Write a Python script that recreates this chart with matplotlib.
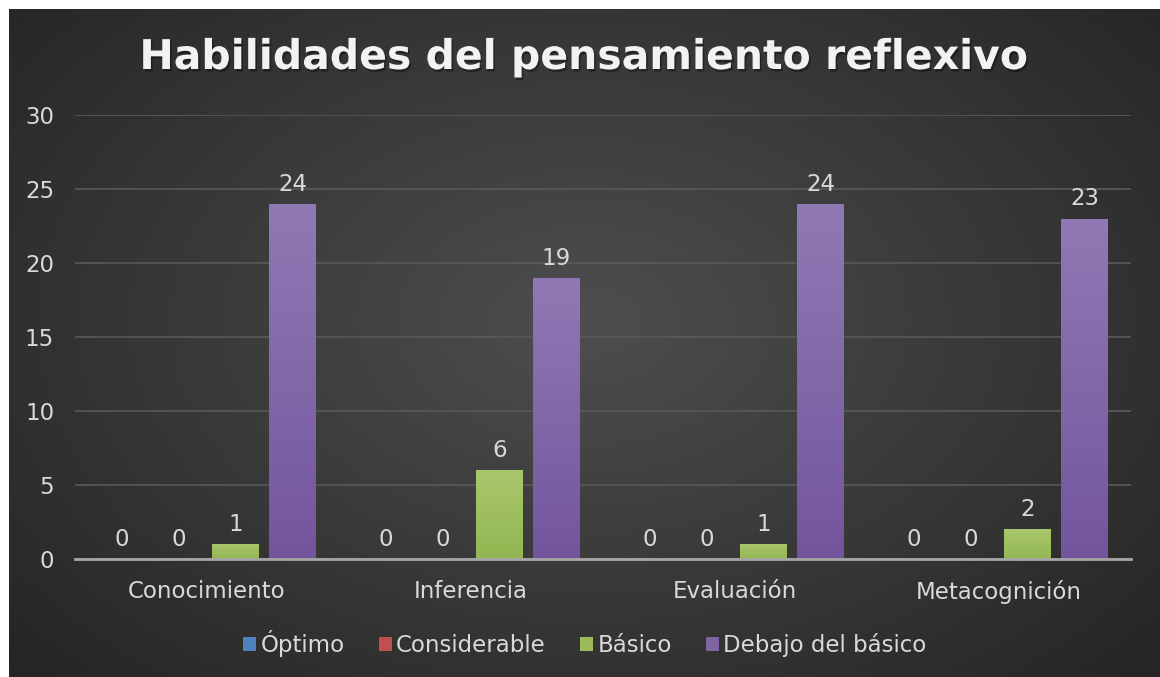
import numpy as np
import matplotlib
matplotlib.use("Agg")
import matplotlib.pyplot as plt
import matplotlib.patheffects as pe

# datos
categorias = ["Conocimiento", "Inferencia", "Evaluación", "Metacognición"]
series = ["Óptimo", "Considerable", "Básico", "Debajo del básico"]
optimo = [0, 0, 0, 0]
considerable = [0, 0, 0, 0]
basico = [1, 6, 1, 2]
debajo = [24, 19, 24, 23]
colores = ["#4F81BD", "#C0504D", "#9BBB59", "#8064A2"]
# degradado de barras (arriba, abajo)
grad = {2: ("#a9c76c", "#93b652"), 3: ("#9079b4", "#73559d")}

plt.rcParams['font.family'] = ['DejaVu Sans']
txt = "#d9d9d9"
fs = 16.5

fig = plt.figure(figsize=(11.6, 6.77), dpi=100)
fig.patch.set_facecolor("white")

# fondo con degradado radial
bg = fig.add_axes([9/1160, 0, 1151/1160, 668/677])
yy, xx = np.mgrid[0:300, 0:500]
r = np.sqrt(((xx - 250) / 250.0) ** 2 + ((yy - 140) / 170.0) ** 2)
r = np.clip(r / 1.35, 0, 1)
c0 = np.array([0x4e, 0x4e, 0x4e]) / 255.0
c1 = np.array([0x25, 0x25, 0x25]) / 255.0
img = c0[None, None, :] * (1 - r[..., None]) + c1[None, None, :] * r[..., None]
bg.imshow(img, aspect="auto", extent=[0, 1, 0, 1], interpolation="bilinear")
bg.axis("off")

ax = fig.add_axes([75/1160, 1 - 559/677, (1131 - 75)/1160, (559 - 115)/677])
ax.patch.set_alpha(0)

x = np.arange(len(categorias))
w = 0.178
paso = 0.216
datos = [optimo, considerable, basico, debajo]
for i, (nombre, vals) in enumerate(zip(series, datos)):
    pos = x + (i - 1.5) * paso
    barras = ax.bar(pos, vals, w, color=colores[i], label=nombre, zorder=3)
    if i in grad:
        top = np.array(matplotlib.colors.to_rgb(grad[i][0]))
        bot = np.array(matplotlib.colors.to_rgb(grad[i][1]))
        t = np.linspace(0, 1, 100)[:, None]
        g = (top * (1 - t) + bot * t)[:, None, :]
        for b in barras:
            if b.get_height() <= 0:
                continue
            im = ax.imshow(g, aspect="auto", extent=[b.get_x(), b.get_x() + b.get_width(), 0, b.get_height()],
                           zorder=3.5, interpolation="bilinear")
            im.set_clip_path(b)
    for p, v in zip(pos, vals):
        ax.text(p, v + 0.55, str(v), ha="center", va="bottom", color=txt, fontsize=fs)

ax.set_ylim(0, 30)
ax.set_xlim(-0.5, 3.5)
ax.set_yticks(range(0, 31, 5))
ax.set_xticks(x)
ax.set_xticklabels(categorias)
ax.tick_params(axis="both", length=0, colors=txt, labelsize=fs)
ax.tick_params(axis="y", pad=15)
ax.tick_params(axis="x", pad=15)
ax.grid(axis="y", color="#595959", linewidth=1.2, zorder=0)
for s in ["top", "right", "left"]:
    ax.spines[s].set_visible(False)
ax.spines["bottom"].set_color("#a6a6a6")
ax.spines["bottom"].set_linewidth(2)
ax.spines["bottom"].set_zorder(4)

fig.text(585/1160, 1 - 58/677, "Habilidades del pensamiento reflexivo",
         ha="center", va="center", color="#f2f2f2", fontsize=29.5, fontweight="bold",
         path_effects=[pe.withSimplePatchShadow(offset=(1.2, -1.8), shadow_rgbFace="black", alpha=0.35)])

leg = ax.legend(loc="center", bbox_to_anchor=(0.483, -0.19), ncol=4, frameon=False,
                fontsize=fs, handlelength=0.55, handleheight=0.55, handletextpad=0.2,
                columnspacing=1.5)
for t in leg.get_texts():
    t.set_color(txt)

fig.savefig("out.png", dpi=100)
